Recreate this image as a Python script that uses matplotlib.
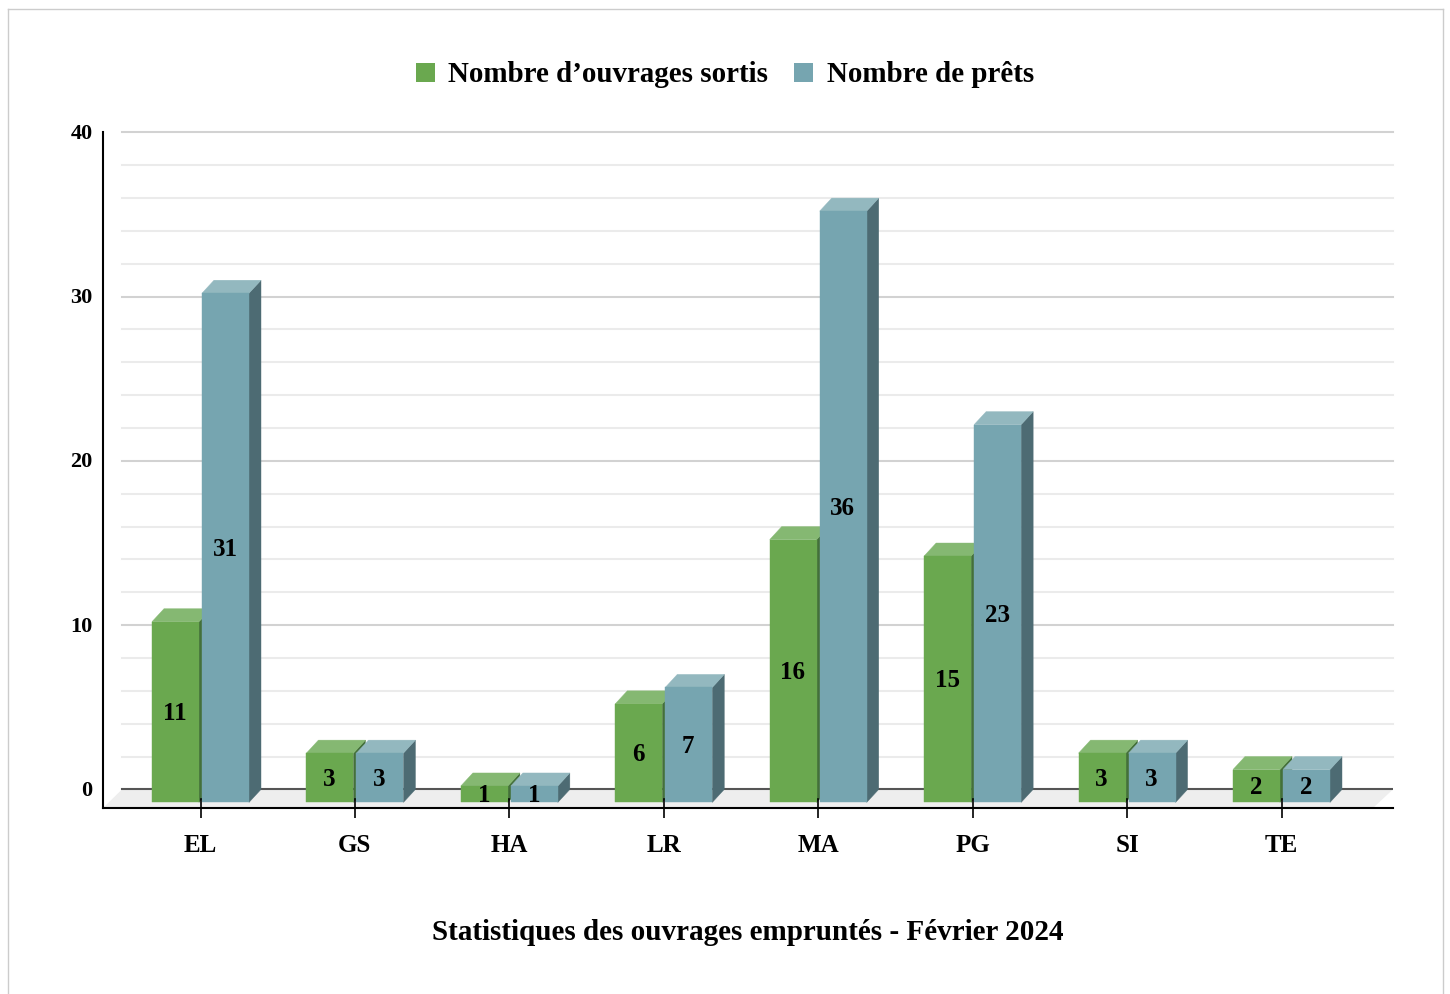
import matplotlib
matplotlib.use("Agg")
import matplotlib.pyplot as plt
from matplotlib.patches import Patch, Polygon, Rectangle
from matplotlib.lines import Line2D
from matplotlib.transforms import ScaledTranslation

plt.rcParams["font.family"] = ["Liberation Serif", "DejaVu Serif"]
plt.rcParams["font.weight"] = "bold"

categories = ["EL", "GS", "HA", "LR", "MA", "PG", "SI", "TE"]
sortis = [11, 3, 1, 6, 16, 15, 3, 2]
prets = [31, 3, 1, 7, 36, 23, 3, 2]
y_ticks = [0, 10, 20, 30, 40]
y_minor = [2, 4, 6, 8, 12, 14, 16, 18, 22, 24, 26, 28, 32, 34, 36, 38]
series_names = ["Nombre d’ouvrages sortis", "Nombre de prêts"]
title = "Statistiques des ouvrages empruntés - Février 2024"

W, H = 1450, 994
LEFT, RIGHT, TOP, BOTTOM = 103, 1393, 132.4, 808
ZERO = 789.4
PX_Y = (ZERO - TOP) / 40     # pixels per value unit
PX_X = (1281.5 - 200.5) / 7  # pixels per category

fig = plt.figure(figsize=(W / 100, H / 100), dpi=100)
ax = fig.add_axes([LEFT / W, 1 - BOTTOM / H, (RIGHT - LEFT) / W, (BOTTOM - TOP) / H])
ax.set_xlim((LEFT - 200.5) / PX_X, (RIGHT - 200.5) / PX_X)
ax.set_ylim((ZERO - BOTTOM) / PX_Y, 40)


def px(v):
    return v / PX_X


def py(v):
    return v / PX_Y


# outer frame of the page
for xs, ys in [([8, 8], [9, 994]), ([8, 1443], [9, 9]), ([1443, 1443], [9, 994])]:
    fig.add_artist(Line2D([x / W for x in xs], [1 - y / H for y in ys], color="#cccccc", lw=1.0))

# floor and back wall
x0, x1 = ax.get_xlim()
floor_y = ax.get_ylim()[0]
ax.add_patch(Polygon([(x0 + px(19), 0), (x1, 0), (x1 - px(20), floor_y), (x0, floor_y)],
                     fc="#eeeeee", ec="none", zorder=1))
for v in y_minor:
    ax.plot([x0 + px(19), x1], [v, v], color="#ebebeb", lw=1.5, zorder=1, clip_on=False)
for v in y_ticks[1:]:
    ax.plot([x0 + px(19), x1], [v, v], color="#d2d2d2", lw=1.5, zorder=1, clip_on=False)
ax.plot([x0 + px(19), x1], [0, 0], color="#555555", lw=1.5, zorder=1)


def bar3d(left, value, front, top, side):
    w, dx, dy = px(47), px(12), py(13)
    base = -py(13)
    ax.add_patch(Polygon([(left + w, base), (left + w + dx, base + dy),
                          (left + w + dx, base + value + dy), (left + w, base + value)],
                         fc=side, ec=side, lw=0.3, zorder=3))
    ax.add_patch(Polygon([(left, base + value), (left + dx, base + value + dy),
                          (left + w + dx, base + value + dy), (left + w, base + value)],
                         fc=top, ec=top, lw=0.3, zorder=3))
    ax.add_patch(Rectangle((left, base), w, value, fc=front, ec=front, lw=0.3, zorder=3))
    ax.text(left + w / 2 - px(0.5), base + value / 2 - py(1.5), str(value), ha="center", va="center",
            fontsize=18, color="black", zorder=6)


for i in range(len(categories)):
    bar3d(i - px(48.5), sortis[i], "#6aa84f", "#85b872", "#44703a")
    bar3d(i + px(1.5), prets[i], "#76a5b0", "#93b8bf", "#4d6b73")

# axes
for s in ["top", "right"]:
    ax.spines[s].set_visible(False)
for s in ["left", "bottom"]:
    ax.spines[s].set_linewidth(1.5)
    ax.spines[s].set_color("black")
    ax.spines[s].set_zorder(4)

ax.set_xticks(range(len(categories)))
ax.set_xticklabels(categories, fontsize=18)
ax.tick_params(axis="x", length=7, width=1.2, pad=12, color="black")
for i in range(len(categories)):
    ax.plot([i, i], [floor_y, floor_y + py(9)], color="black", lw=1.2, zorder=5)
ax.set_yticks(y_ticks)
ax.set_yticklabels([str(v) for v in y_ticks], fontsize=16)
ax.tick_params(axis="y", length=0, pad=7.5)
nudge = ScaledTranslation(0, 1 / 100, fig.dpi_scale_trans)
for lab in ax.get_yticklabels():
    lab.set_transform(lab.get_transform() + nudge)

handles = [Patch(fc="#6aa84f", ec="none"), Patch(fc="#76a5b0", ec="none")]
fig.legend(handles, series_names, loc="center", bbox_to_anchor=(725 / W, 1 - 75 / H),
           ncol=2, frameon=False, fontsize=20.9, handlelength=0.65, handleheight=0.65,
           handletextpad=0.46, columnspacing=0.9, borderpad=0)

fig.text(748 / W, 1 - 932 / H, title, ha="center", va="center", fontsize=21)

fig.savefig("out.png", dpi=100)
